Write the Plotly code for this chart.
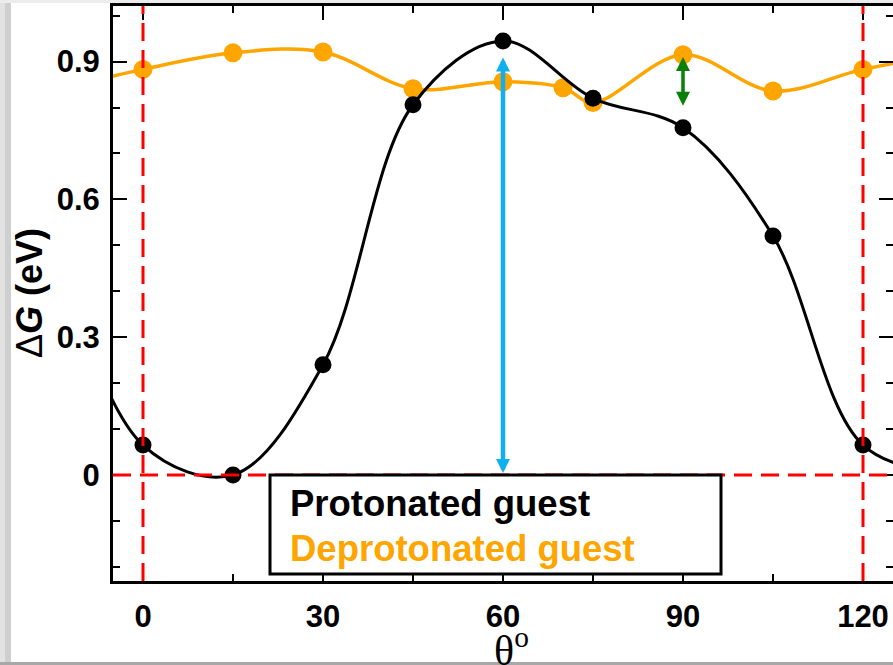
import plotly.graph_objects as go

# ---------------- data ----------------
theta_prot = [0, 15, 30, 45, 60, 75, 90, 105, 120]
dG_prot = [0.065, 0.0, 0.240, 0.806, 0.945, 0.820, 0.756, 0.520, 0.065]

theta_deprot = [0, 15, 30, 45, 60, 70, 75, 90, 105, 120]
dG_deprot = [0.883, 0.919, 0.921, 0.841, 0.856, 0.843, 0.811, 0.915, 0.836, 0.883]

x_ticks = [0, 30, 60, 90, 120]
x_ticktext = ["0", "30", "60", "90", "120"]
y_ticks = [0, 0.3, 0.6, 0.9]
y_ticktext = ["0", "0.3", "0.6", "0.9"]

PERIOD = 120  # the scan is periodic in theta


def periodic_extend(xs, ys):
    """Add one wrapped point on each side so the smooth curve runs to the frame."""
    return ([xs[-2] - PERIOD] + xs + [xs[1] + PERIOD],
            [ys[-2]] + ys + [ys[1]])


W, H = 893, 665
ML, MR, MT, MB = 113, 0, 6, 84
PW, PH = W - ML - MR, H - MT - MB


def px(x):
    return (x - ML) / PW


def py(y):
    return (H - MB - y) / PH


BLACK = "#000000"
ORANGE = "#FFA500"
RED = "#FF0000"
BLUE = "#10B0F0"
GREEN = "#0A800A"
FONT = "Liberation Sans"

fig = go.Figure()

xo, yo = periodic_extend(theta_deprot, dG_deprot)
fig.add_trace(go.Scatter(x=xo, y=yo, mode="lines", line=dict(color=ORANGE, width=3.5, shape="spline"),
                         showlegend=False, hoverinfo="skip"))
fig.add_trace(go.Scatter(x=theta_deprot, y=dG_deprot, mode="markers", name="Deprotonated guest",
                         marker=dict(color=ORANGE, size=19), showlegend=False))

xb, yb = periodic_extend(theta_prot, dG_prot)
fig.add_trace(go.Scatter(x=xb, y=yb, mode="lines", line=dict(color=BLACK, width=3, shape="spline"),
                         showlegend=False, hoverinfo="skip"))
fig.add_trace(go.Scatter(x=theta_prot, y=dG_prot, mode="markers", name="Protonated guest",
                         marker=dict(color=BLACK, size=17), showlegend=False))

dash = "18px,9px"
shapes = [
    dict(type="line", xref="x", yref="paper", x0=0, x1=0, y0=0, y1=1,
         line=dict(color=RED, width=3, dash=dash), layer="above"),
    dict(type="line", xref="x", yref="paper", x0=120, x1=120, y0=0, y1=1,
         line=dict(color=RED, width=3, dash=dash), layer="above"),
    dict(type="line", xref="paper", yref="y", x0=0, x1=1, y0=0, y1=0,
         line=dict(color=RED, width=3, dash=dash), layer="above"),
    # legend box
    dict(type="rect", xref="paper", yref="paper", x0=px(270), x1=px(721), y0=py(574), y1=py(475),
         fillcolor="white", line=dict(color=BLACK, width=3), layer="above"),
    # screenshot frame
    dict(type="rect", xref="paper", yref="paper", x0=px(0), x1=px(5), y0=py(H), y1=py(0),
         fillcolor="#e2e2e2", line=dict(width=0), layer="above"),
    dict(type="rect", xref="paper", yref="paper", x0=px(5), x1=px(11), y0=py(H), y1=py(0),
         fillcolor="#cfcfcf", line=dict(width=0), layer="above"),
    dict(type="rect", xref="paper", yref="paper", x0=px(0), x1=px(W), y0=py(3), y1=py(0),
         fillcolor="#ececec", line=dict(width=0), layer="above"),
    dict(type="rect", xref="paper", yref="paper", x0=px(0), x1=px(W), y0=py(H), y1=py(662),
         fillcolor="#a8a8a8", line=dict(width=0), layer="above"),
]

annotations = [
    # blue double arrow at theta = 60
    dict(x=60, y=0.004, ax=60, ay=0.912, xref="x", yref="y", axref="x", ayref="y", text="",
         showarrow=True, arrowside="end+start", arrowhead=2, startarrowhead=2,
         arrowsize=0.62, startarrowsize=0.62, arrowwidth=4.5, arrowcolor=BLUE,
         standoff=0, startstandoff=0),
    # green double arrow at theta = 90
    dict(x=90, y=0.804, ax=90, ay=0.913, xref="x", yref="y", axref="x", ayref="y", text="",
         showarrow=True, arrowside="end+start", arrowhead=2, startarrowhead=2,
         arrowsize=0.8, startarrowsize=0.8, arrowwidth=3.5, arrowcolor=GREEN,
         standoff=0, startstandoff=0),
    # legend texts
    dict(x=px(288), y=py(503), xref="paper", yref="paper", xanchor="left", yanchor="middle",
         text="<b>Protonated guest</b>", showarrow=False,
         font=dict(family=FONT, size=36.5, color=BLACK)),
    dict(x=px(288), y=py(548), xref="paper", yref="paper", xanchor="left", yanchor="middle",
         text="<b>Deprotonated guest</b>", showarrow=False,
         font=dict(family=FONT, size=36.5, color=ORANGE)),
    # x-axis title
    dict(x=px(512), y=py(647), xref="paper", yref="paper", xanchor="center", yanchor="middle",
         text="θ<sup>o</sup>", showarrow=False,
         font=dict(family="Liberation Serif", size=42, color=BLACK)),
    # y-axis title
    dict(x=px(29), y=py(293), xref="paper", yref="paper", xanchor="center", yanchor="middle",
         text="Δ<b><i>G</i> (eV)</b>", textangle=-90, showarrow=False,
         font=dict(family=FONT, size=36, color=BLACK)),
]

axis_common = dict(showline=True, linewidth=3, linecolor=BLACK, mirror="allticks",
                   ticks="inside", ticklen=14, tickwidth=2, tickcolor=BLACK,
                   showgrid=False, zeroline=False, automargin=False,
                   tickfont=dict(family=FONT, size=31, color=BLACK, weight="bold"))

fig.update_layout(
    width=W, height=H,
    margin=dict(l=ML, r=MR, t=MT, b=MB, pad=0, autoexpand=False),
    paper_bgcolor="white", plot_bgcolor="white",
    showlegend=False,
    shapes=shapes,
    annotations=annotations,
    xaxis=dict(range=[-5, 125], tickvals=x_ticks, ticktext=x_ticktext,
               minor=dict(ticks="inside", ticklen=7, tickwidth=2, tickcolor=BLACK, dtick=15, tick0=0),
               ticklabelstandoff=6, **axis_common),
    yaxis=dict(range=[-0.231, 1.021], tickvals=y_ticks, ticktext=y_ticktext,
               minor=dict(ticks="inside", ticklen=7, tickwidth=2, tickcolor=BLACK, dtick=0.1, tick0=0),
               ticklabelstandoff=4, **axis_common),
)

fig.write_html("out.html", config={"displayModeBar": False},
               post_script="document.body.style.margin='0px';document.body.style.overflow='hidden';")
